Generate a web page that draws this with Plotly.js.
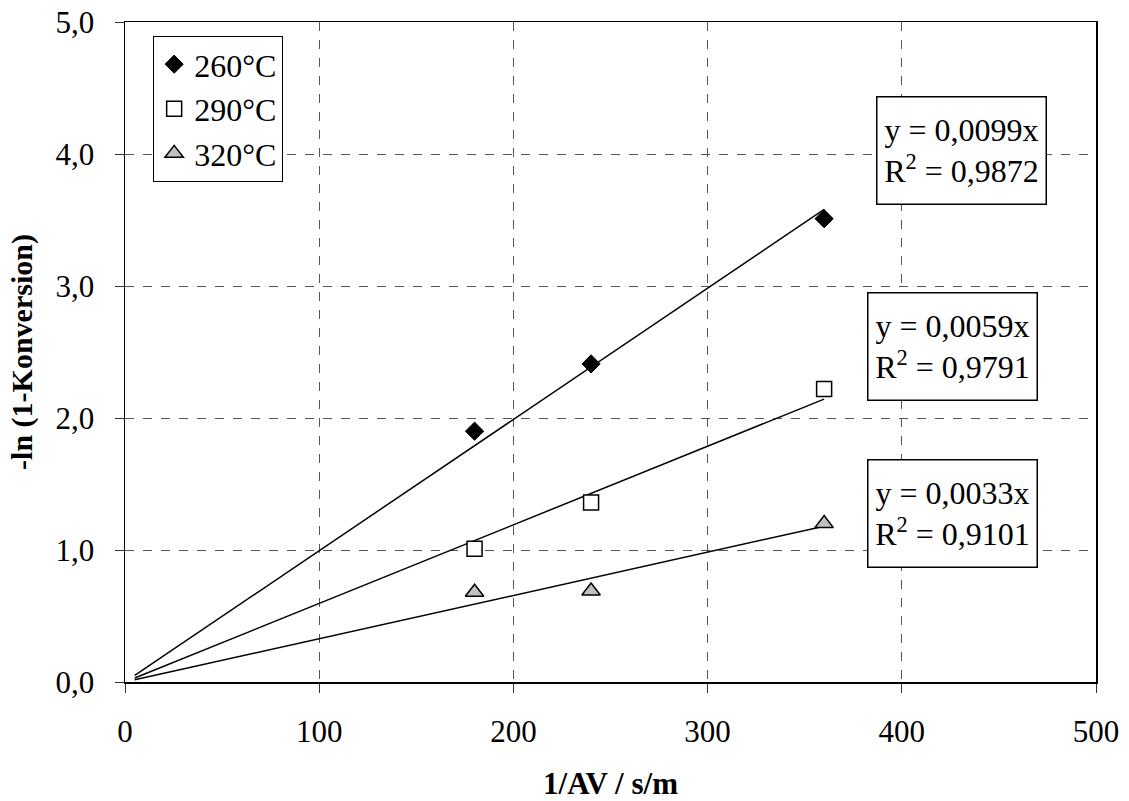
<!DOCTYPE html>
<html>
<head>
<meta charset="utf-8">
<script src="https://cdn.plot.ly/plotly-3.0.1.min.js"></script>
<style>html,body{margin:0;padding:0;background:#fff;}#chart{width:1129px;height:801px;}</style>
</head>
<body>
<div id="chart"></div>
<script>
// Data
var xValues = [180, 240, 360];
var seriesNames = ['260°C', '290°C', '320°C'];
var y260 = [1.90, 2.41, 3.51];
var y290 = [1.01, 1.36, 2.22];
var y320 = [0.68, 0.69, 1.20];
var r2Values = ['0,9872', '0,9791', '0,9101'];
var slopeLabels = ['0,0099', '0,0059', '0,0033'];
var trendRange = [5, 360];
var xTicks = [0, 100, 200, 300, 400, 500];
var yTicks = [0, 1, 2, 3, 4, 5];

var FONT = 'Liberation Serif, Times New Roman, serif';
var seriesY = [y260, y290, y320];
var markers = [
  {symbol: 'diamond', size: 14, color: '#000000', line: {color: '#000000', width: 1}},
  {symbol: 'square', size: 15, color: '#ffffff', line: {color: '#000000', width: 1.5}},
  {symbol: 'triangle-up', size: 16, color: '#c0c0c0', line: {color: '#000000', width: 1.5}}
];

// least-squares slope through origin for the trendlines
function fitSlope(xs, ys) {
  var sxy = 0, sxx = 0;
  for (var i = 0; i < xs.length; i++) { sxy += xs[i] * ys[i]; sxx += xs[i] * xs[i]; }
  return sxy / sxx;
}

var traces = [];
seriesY.forEach(function (ys, i) {
  var k = fitSlope(xValues, ys);
  traces.push({
    x: trendRange,
    y: trendRange.map(function (v) { return k * v; }),
    mode: 'lines',
    line: {color: '#000000', width: 1.5},
    showlegend: false,
    hoverinfo: 'skip'
  });
});
seriesY.forEach(function (ys, i) {
  traces.push({
    x: xValues,
    y: ys,
    mode: 'markers',
    name: seriesNames[i],
    legendgroup: 'g' + i,
    marker: markers[i]
  });
});

var annPos = [{x: 430.5, y: 4.03}, {x: 426, y: 2.54}, {x: 426, y: 1.28}];
var annotations = annPos.map(function (p, i) {
  return {
    x: p.x, y: p.y, xref: 'x', yref: 'y',
    text: 'y = ' + slopeLabels[i] + 'x<br>R<sup>2</sup> = ' + r2Values[i],
    showarrow: false,
    font: {family: FONT, size: 32, color: '#000000'},
    align: 'center',
    bgcolor: '#ffffff',
    bordercolor: '#000000',
    borderwidth: 1.5,
    borderpad: 3,
    width: 162,
    height: 100,
    xanchor: 'center',
    yanchor: 'middle'
  };
});

var layout = {
  width: 1129,
  height: 801,
  margin: {l: 125, r: 33, t: 22, b: 119},
  paper_bgcolor: '#ffffff',
  plot_bgcolor: '#ffffff',
  separators: ', ',
  font: {family: FONT, size: 31, color: '#000000'},
  showlegend: true,
  legend: {
    x: 0.029, y: 0.979, xanchor: 'left', yanchor: 'top',
    bgcolor: '#ffffff', bordercolor: '#000000', borderwidth: 1,
    font: {family: FONT, size: 32, color: '#000000'},
    traceorder: 'grouped',
    tracegroupgap: 0
  },
  xaxis: {
    range: [0, 500],
    tickvals: xTicks,
    ticktext: xTicks.map(String),
    showline: true, mirror: true, linecolor: '#000000', linewidth: 1.5,
    ticks: 'outside', ticklen: 9, tickcolor: '#333333', tickwidth: 1,
    showgrid: true, gridcolor: '#555555', gridwidth: 1, griddash: 'dash',
    zeroline: false,
    tickfont: {family: FONT, size: 31, color: '#000000'},
    ticklabelstandoff: 12,
    title: {text: '<b>1/AV / s/m</b>', font: {family: FONT, size: 31, color: '#000000'}, standoff: 26}
  },
  yaxis: {
    range: [0, 5],
    tickvals: yTicks,
    ticktext: yTicks.map(function (v) { return v.toFixed(1).replace('.', ','); }),
    showline: true, mirror: true, linecolor: '#000000', linewidth: 1.5,
    ticks: 'outside', ticklen: 9, tickcolor: '#333333', tickwidth: 1,
    showgrid: true, gridcolor: '#555555', gridwidth: 1, griddash: 'dash',
    zeroline: false,
    tickfont: {family: FONT, size: 31, color: '#000000'},
    ticklabelstandoff: 14,
    title: {text: '<b>-ln (1-Konversion)</b>', font: {family: FONT, size: 30, color: '#000000'}, standoff: 14}
  },
  annotations: annotations
};

Plotly.newPlot('chart', traces, layout, {displayModeBar: false, staticPlot: true});
</script>
</body>
</html>
